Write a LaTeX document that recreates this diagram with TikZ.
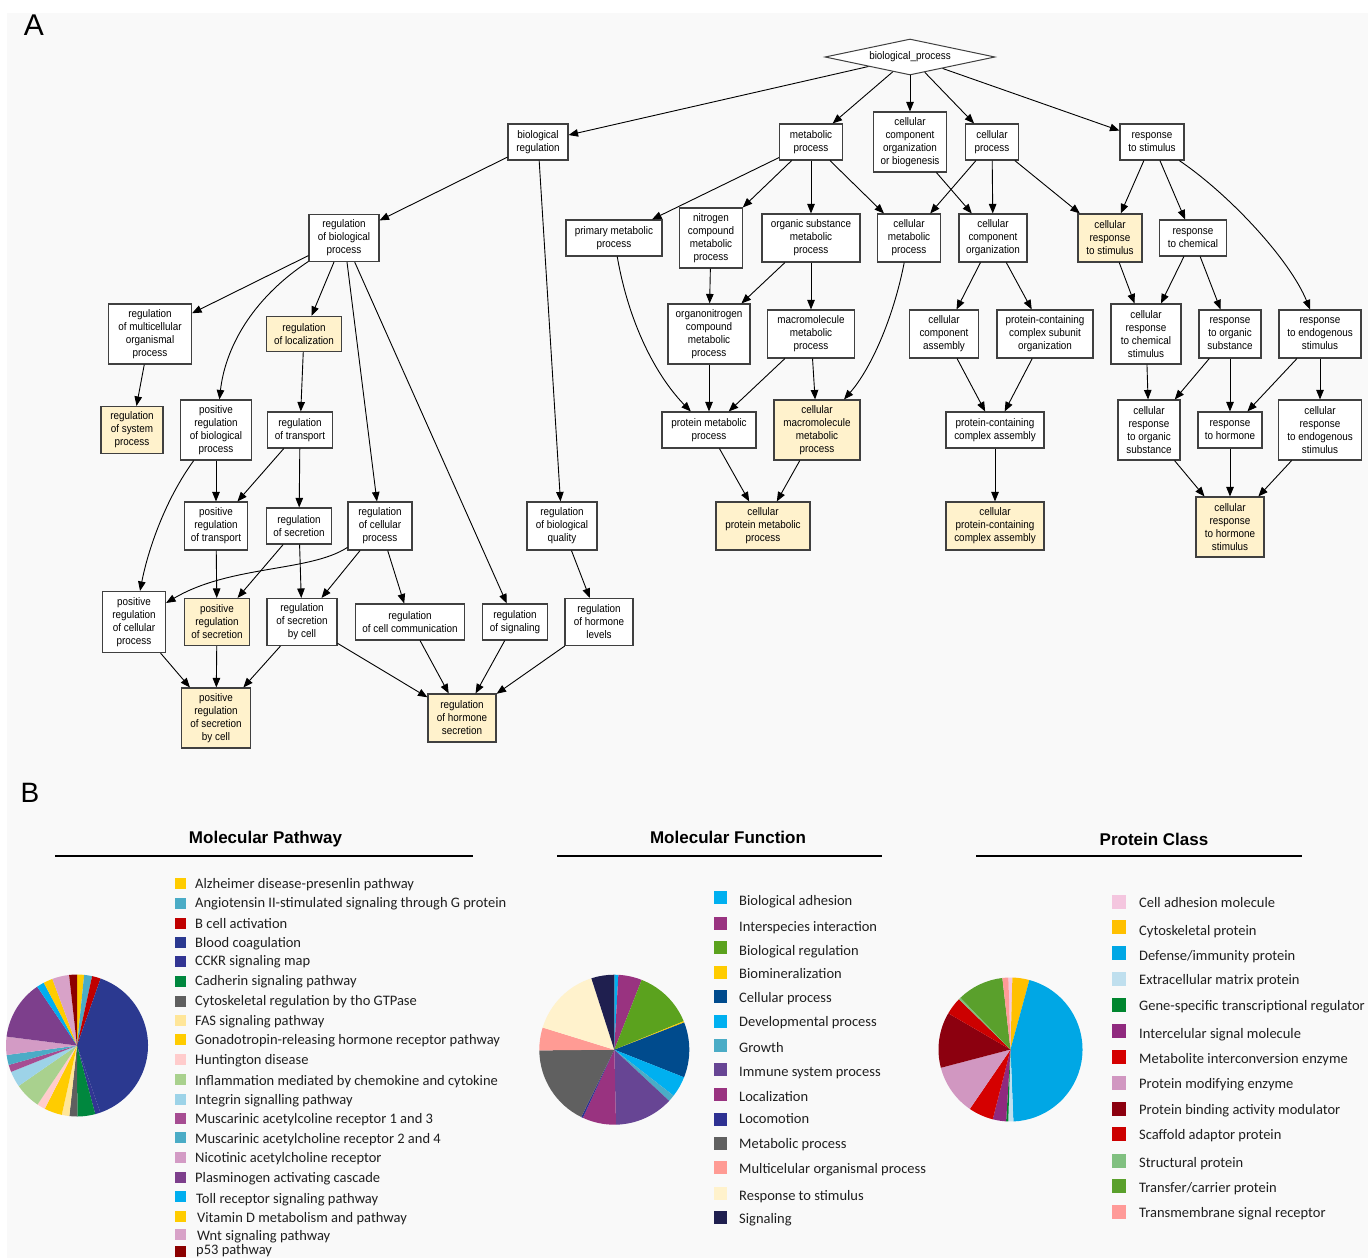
\documentclass[tikz,border=0pt]{standalone}
\usepackage{fontspec}
\setmainfont{Liberation Sans}
\newfontfamily\gofont[FakeStretch=0.9]{Liberation Sans}
\newfontfamily\legfont{Carlito}
\usetikzlibrary{arrows.meta,shapes.geometric}
\definecolor{panel}{HTML}{F9F9F9}
\definecolor{goyellow}{HTML}{FFF2CC}
% pathway colours
\definecolor{mpA}{HTML}{FFCC00}\definecolor{mpB}{HTML}{4BACC6}\definecolor{mpC}{HTML}{C00000}
\definecolor{mpD}{HTML}{2B3990}\definecolor{mpE}{HTML}{323593}\definecolor{mpF}{HTML}{00873E}
\definecolor{mpG}{HTML}{5F5F5F}\definecolor{mpH}{HTML}{FFE699}\definecolor{mpI}{HTML}{FFCC00}
\definecolor{mpJ}{HTML}{FFCCCC}\definecolor{mpK}{HTML}{A9D18E}\definecolor{mpL}{HTML}{9DD3E8}
\definecolor{mpM}{HTML}{A64D92}\definecolor{mpN}{HTML}{4BACC6}\definecolor{mpO}{HTML}{D39BC5}
\definecolor{mpP}{HTML}{7D3F8C}\definecolor{mpQ}{HTML}{00AEEF}\definecolor{mpR}{HTML}{FFCC00}
\definecolor{mpS}{HTML}{D8A2C8}\definecolor{mpT}{HTML}{8B0000}
% function colours
\definecolor{mfA}{HTML}{00B0F0}\definecolor{mfB}{HTML}{993380}\definecolor{mfC}{HTML}{5BA21E}
\definecolor{mfD}{HTML}{FFCC00}\definecolor{mfE}{HTML}{004B8D}\definecolor{mfF}{HTML}{00B0F0}
\definecolor{mfG}{HTML}{4BACC6}\definecolor{mfH}{HTML}{674594}\definecolor{mfI}{HTML}{993380}
\definecolor{mfJ}{HTML}{2E3192}\definecolor{mfK}{HTML}{606060}\definecolor{mfL}{HTML}{FF9B94}
\definecolor{mfM}{HTML}{FFF2CC}\definecolor{mfN}{HTML}{1F1F4F}
% protein class colours
\definecolor{pcA}{HTML}{F4C6DF}\definecolor{pcB}{HTML}{FFC000}\definecolor{pcC}{HTML}{00A7E5}
\definecolor{pcD}{HTML}{BFDFEE}\definecolor{pcE}{HTML}{00862F}\definecolor{pcF}{HTML}{902A7F}
\definecolor{pcG}{HTML}{D50000}\definecolor{pcH}{HTML}{D197C1}\definecolor{pcI}{HTML}{8C000F}
\definecolor{pcJ}{HTML}{CC0000}\definecolor{pcK}{HTML}{80C080}\definecolor{pcL}{HTML}{5AA02C}
\definecolor{pcM}{HTML}{FF9A98}
\newcommand\pslice[6]{\fill[#6] (#1,#2) -- ++({#4-90}:#3) arc[start angle={#4-90}, end angle={#5-90}, radius=#3] -- cycle;}
\newcommand\legitem[8]{\node[fill=#2, minimum size=#5pt, inner sep=0pt] (#1s) at (#3,#4) {}; \node[legtext, anchor=base west] (#1) at (#6,#7) {#8};}
\tikzset{
  gb/.style={draw=black!75, line width=1.1pt, fill=white, align=center, inner sep=1pt, font=\gofont\fontsize{11}{13}\selectfont},
  gy/.style={gb, fill=goyellow},
  arr/.style={-{Triangle[length=9.5pt,width=7.5pt]}, line width=0.9pt, black},
  legtext/.style={font=\legfont\fontsize{14.5}{16}\selectfont, inner sep=0pt, text=black!88},
  ptitle/.style={font=\bfseries\fontsize{17}{20}\selectfont, anchor=base, inner sep=0pt}
}
\begin{document}
\begin{tikzpicture}[x=1pt,y=-1pt]
\useasboundingbox (0,0) rectangle (1368,1258);
\clip (0,0) rectangle (1368,1258);
\fill[white] (0,0) rectangle (1368,1258);
\fill[panel] (7,13) rectangle (1368,1258);

\node[font=\fontsize{30}{30}\selectfont, inner sep=0pt] (lblA) at (34,25) {A};
\node[font=\fontsize{28}{28}\selectfont, inner sep=0pt] (lblB) at (30,793) {B};

% ---------- GO graph ----------
\node[diamond, shape aspect=4.7, draw=black!75, line width=1pt, fill=white, minimum width=170pt, minimum height=36pt, inner sep=0pt, font=\gofont\fontsize{11}{13}\selectfont] (bp) at (910,57) {biological\_process};

\node[gb,minimum width=60pt,minimum height=36pt] (br) at (538,142) {biological\\regulation};
\node[gb,minimum width=63pt,minimum height=36pt] (mp) at (811,142) {metabolic\\process};
\node[gb,minimum width=73pt,minimum height=60pt] (ccob) at (910,142) {cellular\\component\\organization\\or biogenesis};
\node[gb,minimum width=53pt,minimum height=36pt] (cp) at (992,142) {cellular\\process};
\node[gb,minimum width=64pt,minimum height=36pt] (rts) at (1152,142) {response\\to stimulus};

\node[gb,minimum width=70pt,minimum height=47pt] (rbp) at (344,238) {regulation\\of biological\\process};
\node[gb,minimum width=96pt,minimum height=36pt] (pmp) at (614,238) {primary metabolic\\process};
\node[gb,minimum width=63pt,minimum height=60pt] (ncmp) at (711,238) {nitrogen\\compound\\metabolic\\process};
\node[gb,minimum width=98pt,minimum height=48pt] (osmp) at (811,238) {organic substance\\metabolic\\process};
\node[gb,minimum width=63pt,minimum height=48pt] (cmp) at (909,238) {cellular\\metabolic\\process};
\node[gb,minimum width=68pt,minimum height=48pt] (cco) at (993,238) {cellular\\component\\organization};
\node[gy,minimum width=64pt,minimum height=48pt] (crs) at (1110,238) {cellular\\response\\to stimulus};
\node[gb,minimum width=67pt,minimum height=36pt] (rtc) at (1193,238) {response\\to chemical};

\node[gb,minimum width=83pt,minimum height=60pt] (rmop) at (150,334) {regulation\\of multicellular\\organismal\\process};
\node[gy,minimum width=75pt,minimum height=35pt] (rol) at (304,334) {regulation\\of localization};
\node[gb,minimum width=82pt,minimum height=60pt] (oncmp) at (709,334) {organonitrogen\\compound\\metabolic\\process};
\node[gb,minimum width=87pt,minimum height=48pt] (mmp) at (811,334) {macromolecule\\metabolic\\process};
\node[gb,minimum width=69pt,minimum height=48pt] (cca) at (944,334) {cellular\\component\\assembly};
\node[gb,minimum width=96pt,minimum height=48pt] (pccso) at (1045,334) {protein-containing\\complex subunit\\organization};
\node[gb,minimum width=70pt,minimum height=60pt] (crcs) at (1146,334) {cellular\\response\\to chemical\\stimulus};
\node[gb,minimum width=62pt,minimum height=48pt] (rtos) at (1230,334) {response\\to organic\\substance};
\node[gb,minimum width=82pt,minimum height=48pt] (rtes) at (1320,334) {response\\to endogenous\\stimulus};

\node[gy,minimum width=62pt,minimum height=47pt] (rsp) at (132,430) {regulation\\of system\\process};
\node[gb,minimum width=71pt,minimum height=60pt] (prbp) at (216,430) {positive\\regulation\\of biological\\process};
\node[gb,minimum width=65pt,minimum height=36pt] (rot) at (300,430) {regulation\\of transport};
\node[gb,minimum width=94pt,minimum height=36pt] (prmp) at (709,430) {protein metabolic\\process};
\node[gy,minimum width=86pt,minimum height=60pt] (cmmp) at (817,430) {cellular\\macromolecule\\metabolic\\process};
\node[gb,minimum width=98pt,minimum height=36pt] (pcca) at (995,430) {protein-containing\\complex assembly};
\node[gb,minimum width=62pt,minimum height=60pt] (crtos) at (1149,430) {cellular\\response\\to organic\\substance};
\node[gb,minimum width=64pt,minimum height=36pt] (rth) at (1230,430) {response\\to hormone};
\node[gb,minimum width=83pt,minimum height=60pt] (crtes) at (1320,430) {cellular\\response\\to endogenous\\stimulus};

\node[gb,minimum width=63pt,minimum height=48pt] (prt) at (216,526) {positive\\regulation\\of transport};
\node[gb,minimum width=65pt,minimum height=36pt] (ros) at (299,526) {regulation\\of secretion};
\node[gb,minimum width=64pt,minimum height=48pt] (rcp) at (380,526) {regulation\\of cellular\\process};
\node[gb,minimum width=70pt,minimum height=48pt] (rbq) at (562,526) {regulation\\of biological\\quality};
\node[gy,minimum width=94pt,minimum height=48pt] (cprmp) at (763,526) {cellular\\protein metabolic\\process};
\node[gy,minimum width=98pt,minimum height=48pt] (cpcca) at (995,526) {cellular\\protein-containing\\complex assembly};
\node[gy,minimum width=68pt,minimum height=60pt] (crths) at (1230,527) {cellular\\response\\to hormone\\stimulus};

\node[gb,minimum width=63pt,minimum height=61pt] (prcp) at (134,622) {positive\\regulation\\of cellular\\process};
\node[gy,minimum width=65pt,minimum height=47pt] (prs) at (217,622) {positive\\regulation\\of secretion};
\node[gb,minimum width=70pt,minimum height=47pt] (rsbc) at (302,622) {regulation\\of secretion\\by cell};
\node[gb,minimum width=109pt,minimum height=36pt] (rcc) at (410,622) {regulation\\of cell communication};
\node[gb,minimum width=65pt,minimum height=36pt] (rsig) at (515,622) {regulation\\of signaling};
\node[gb,minimum width=68pt,minimum height=47pt] (rhl) at (599,622) {regulation\\of hormone\\levels};

\node[gy,minimum width=69pt,minimum height=60pt] (prsbc) at (216,718) {positive\\regulation\\of secretion\\by cell};
\node[gy,minimum width=68pt,minimum height=48pt] (rhs) at (462,718) {regulation\\of hormone\\secretion};

% edges
\draw[arr] (bp) -- (br);
\draw[arr] (bp) -- (mp);
\draw[arr] (bp) -- (ccob);
\draw[arr] (bp) -- (cp);
\draw[arr] (bp) -- (rts);
\draw[arr] (br) -- (rbp);
\draw[arr] (br) -- (rbq);
\draw[arr] (mp) -- (pmp);
\draw[arr] (mp) -- (ncmp);
\draw[arr] (mp) -- (osmp);
\draw[arr] (mp) -- (cmp);
\draw[arr] (ccob) -- (cco);
\draw[arr] (cp) -- (cmp);
\draw[arr] (cp) -- (cco);
\draw[arr] (cp) -- (crs);
\draw[arr] (rts) -- (crs);
\draw[arr] (rts) -- (rtc);
\draw[arr] (rts) .. controls (1230,195) and (1290,260) .. (rtes);
\draw[arr] (rbp) -- (rmop);
\draw[arr] (rbp) .. controls (250,300) and (225,350) .. (prbp);
\draw[arr] (rbp) -- (rol);
\draw[arr] (rbp) -- (rcp);
\draw[arr] (rbp) -- (rsig);
\draw[arr] (rmop) -- (rsp);
\draw[arr] (rol) -- (rot);
\draw[arr] (rot) -- (prt);
\draw[arr] (rot) -- (ros);
\draw[arr] (prbp) -- (prt);
\draw[arr] (prbp) .. controls (165,500) and (148,550) .. (prcp);
\draw[arr] (prt) -- (prs);
\draw[arr] (ros) -- (prs);
\draw[arr] (ros) -- (rsbc);
\draw[arr] (rcp) .. controls (310,572) and (230,565) .. (prcp);
\draw[arr] (rcp) -- (rsbc);
\draw[arr] (rcp) -- (rcc);
\draw[arr] (rbq) -- (rhl);
\draw[arr] (prcp) -- (prsbc);
\draw[arr] (prs) -- (prsbc);
\draw[arr] (rsbc) -- (prsbc);
\draw[arr] (rsbc) -- (rhs);
\draw[arr] (rcc) -- (rhs);
\draw[arr] (rsig) -- (rhs);
\draw[arr] (rhl) -- (rhs);
\draw[arr] (pmp) .. controls (630,330) and (660,380) .. (prmp);
\draw[arr] (ncmp) -- (oncmp);
\draw[arr] (osmp) -- (oncmp);
\draw[arr] (osmp) -- (mmp);
\draw[arr] (cmp) .. controls (893,320) and (870,370) .. (cmmp);
\draw[arr] (oncmp) -- (prmp);
\draw[arr] (mmp) -- (prmp);
\draw[arr] (mmp) -- (cmmp);
\draw[arr] (prmp) -- (cprmp);
\draw[arr] (cmmp) -- (cprmp);
\draw[arr] (cco) -- (cca);
\draw[arr] (cco) -- (pccso);
\draw[arr] (cca) -- (pcca);
\draw[arr] (pccso) -- (pcca);
\draw[arr] (pcca) -- (cpcca);
\draw[arr] (crs) -- (crcs);
\draw[arr] (rtc) -- (crcs);
\draw[arr] (rtc) -- (rtos);
\draw[arr] (crcs) -- (crtos);
\draw[arr] (rtos) -- (crtos);
\draw[arr] (rtos) -- (rth);
\draw[arr] (rtes) -- (rth);
\draw[arr] (rtes) -- (crtes);
\draw[arr] (crtos) -- (crths);
\draw[arr] (rth) -- (crths);
\draw[arr] (crtes) -- (crths);

% ---------- Panel B ----------
\node[ptitle] (t1) at (265.5,843) {Molecular Pathway};
\node[ptitle] (t2) at (728,843) {Molecular Function};
\node[ptitle] (t3) at (1154,845) {Protein Class};
\draw[line width=1.2pt] (55,856) -- (473,856);
\draw[line width=1.2pt] (557,856) -- (882,856);
\draw[line width=1.2pt] (976,856) -- (1302,856);

% pie 1 : Molecular Pathway
\pslice{77}{1045.5}{71}{0}{5.8}{mpA}
\pslice{77}{1045.5}{71}{5.8}{12.3}{mpB}
\pslice{77}{1045.5}{71}{12.3}{19.4}{mpC}
\pslice{77}{1045.5}{71}{19.4}{160.8}{mpD}
\pslice{77}{1045.5}{71}{160.8}{165.1}{mpE}
\pslice{77}{1045.5}{71}{165.1}{179.7}{mpF}
\pslice{77}{1045.5}{71}{179.7}{186.2}{mpG}
\pslice{77}{1045.5}{71}{186.2}{192.4}{mpH}
\pslice{77}{1045.5}{71}{192.4}{207}{mpI}
\pslice{77}{1045.5}{71}{207}{213.8}{mpJ}
\pslice{77}{1045.5}{71}{213.8}{235.3}{mpK}
\pslice{77}{1045.5}{71}{235.3}{248.2}{mpL}
\pslice{77}{1045.5}{71}{248.2}{254.1}{mpM}
\pslice{77}{1045.5}{71}{254.1}{262.3}{mpN}
\pslice{77}{1045.5}{71}{262.3}{277.2}{mpO}
\pslice{77}{1045.5}{71}{277.2}{325.9}{mpP}
\pslice{77}{1045.5}{71}{325.9}{332.1}{mpQ}
\pslice{77}{1045.5}{71}{332.1}{339.7}{mpR}
\pslice{77}{1045.5}{71}{339.7}{353.6}{mpS}
\pslice{77}{1045.5}{71}{353.6}{360}{mpT}

% pie 2 : Molecular Function
\pslice{614.3}{1049.7}{75}{0}{3.1}{mfA}
\pslice{614.3}{1049.7}{75}{3.1}{21.4}{mfB}
\pslice{614.3}{1049.7}{75}{21.4}{67.7}{mfC}
\pslice{614.3}{1049.7}{75}{67.7}{68.7}{mfD}
\pslice{614.3}{1049.7}{75}{68.7}{111.6}{mfE}
\pslice{614.3}{1049.7}{75}{111.6}{127.8}{mfF}
\pslice{614.3}{1049.7}{75}{127.8}{133}{mfG}
\pslice{614.3}{1049.7}{75}{133}{178.7}{mfH}
\pslice{614.3}{1049.7}{75}{178.7}{204.8}{mfI}
\pslice{614.3}{1049.7}{75}{204.8}{206.2}{mfJ}
\pslice{614.3}{1049.7}{75}{206.2}{269.5}{mfK}
\pslice{614.3}{1049.7}{75}{269.5}{287.2}{mfL}
\pslice{614.3}{1049.7}{75}{287.2}{342.2}{mfM}
\pslice{614.3}{1049.7}{75}{342.2}{360}{mfN}

% pie 3 : Protein Class
\pslice{1010.5}{1049.5}{72}{-1.7}{1.5}{pcA}
\pslice{1010.5}{1049.5}{72}{1.5}{15.2}{pcB}
\pslice{1010.5}{1049.5}{72}{15.2}{177.7}{pcC}
\pslice{1010.5}{1049.5}{72}{177.7}{181.8}{pcD}
\pslice{1010.5}{1049.5}{72}{181.8}{183.5}{pcE}
\pslice{1010.5}{1049.5}{72}{183.5}{194.3}{pcF}
\pslice{1010.5}{1049.5}{72}{194.3}{214.4}{pcG}
\pslice{1010.5}{1049.5}{72}{214.4}{255.3}{pcH}
\pslice{1010.5}{1049.5}{72}{255.3}{300.2}{pcI}
\pslice{1010.5}{1049.5}{72}{300.2}{314.3}{pcJ}
\pslice{1010.5}{1049.5}{72}{314.3}{316}{pcK}
\pslice{1010.5}{1049.5}{72}{316}{353.5}{pcL}
\pslice{1010.5}{1049.5}{72}{353.5}{358.3}{pcM}

% legend 1
\legitem{la}{mpA}{180.5}{883}{11}{195}{888}{Alzheimer disease-presenlin pathway}
\legitem{lb}{mpB}{180.5}{903}{11}{195}{907}{Angiotensin II-stimulated signaling through G protein}
\legitem{lc}{mpC}{180.5}{923}{11}{195}{928}{B cell activation}
\legitem{ld}{mpD}{180.5}{942}{11}{195}{947}{Blood coagulation}
\legitem{le}{mpE}{180.5}{961}{11}{195}{965}{CCKR signaling map}
\legitem{lf}{mpF}{180.5}{981}{11}{195}{985}{Cadherin signaling pathway}
\legitem{lg}{mpG}{180.5}{1001}{11}{195}{1005}{Cytoskeletal regulation by tho GTPase}
\legitem{lh}{mpH}{180.5}{1020}{11}{195}{1025}{FAS signaling pathway}
\legitem{li}{mpI}{180.5}{1039}{11}{195}{1044}{Gonadotropin-releasing hormone receptor pathway}
\legitem{lj}{mpJ}{180.5}{1059}{11}{195}{1064}{Huntington disease}
\legitem{lk}{mpK}{180.5}{1079}{11}{195}{1085}{Inflammation mediated by chemokine and cytokine}
\legitem{ll}{mpL}{180.5}{1099}{11}{195}{1104}{Integrin signalling pathway}
\legitem{lm}{mpM}{180.5}{1118}{11}{195}{1123}{Muscarinic acetylcoline receptor 1 and 3}
\legitem{ln}{mpN}{180.5}{1137}{11}{195}{1143}{Muscarinic acetylcholine receptor 2 and 4}
\legitem{lo}{mpO}{180.5}{1157}{11}{195}{1162}{Nicotinic acetylcholine receptor}
\legitem{lp}{mpP}{180.5}{1177}{11}{195}{1182}{Plasminogen activating cascade}
\legitem{lq}{mpQ}{180.5}{1196}{11}{196}{1203}{Toll receptor signaling pathway}
\legitem{lr}{mpR}{180.5}{1216}{11}{197}{1222}{Vitamin D metabolism and pathway}
\legitem{ls}{mpS}{180.5}{1234}{11}{197}{1240}{Wnt signaling pathway}
\legitem{lt}{mpT}{180.5}{1251}{11}{196}{1254}{p53 pathway}

% legend 2
\legitem{fa}{mfA}{720.5}{897}{13}{739}{905}{Biological adhesion}
\legitem{fb}{mfB}{720.5}{923}{13}{739}{931}{Interspecies interaction}
\legitem{fc}{mfC}{720.5}{947}{13}{739}{955}{Biological regulation}
\legitem{fd}{mfD}{720.5}{972}{13}{739}{978}{Biomineralization}
\legitem{fe}{mfE}{720.5}{996}{13}{739}{1002}{Cellular process}
\legitem{ff}{mfF}{720.5}{1021}{13}{739}{1026}{Developmental process}
\legitem{fg}{mfG}{720.5}{1045}{13}{739}{1052}{Growth}
\legitem{fh}{mfH}{720.5}{1069}{13}{739}{1076}{Immune system process}
\legitem{fi}{mfI}{720.5}{1094}{13}{739}{1101}{Localization}
\legitem{fj}{mfJ}{720.5}{1119}{13}{739}{1123}{Locomotion}
\legitem{fk}{mfK}{720.5}{1143}{13}{739}{1148}{Metabolic process}
\legitem{fl}{mfL}{720.5}{1167}{13}{739}{1173}{Multicelular organismal process}
\legitem{fm}{mfM}{720.5}{1193}{13}{739}{1200}{Response to stimulus}
\legitem{fn}{mfN}{720.5}{1217}{13}{739}{1223}{Signaling}

% legend 3
\legitem{pa}{pcA}{1119}{902}{14}{1139}{907}{Cell adhesion molecule}
\legitem{pb}{pcB}{1119}{927}{14}{1139}{935}{Cytoskeletal protein}
\legitem{pc}{pcC}{1119}{953}{14}{1139}{960}{Defense/immunity protein}
\legitem{pd}{pcD}{1119}{979}{14}{1139}{984}{Extracellular matrix protein}
\legitem{pe}{pcE}{1119}{1005}{14}{1139}{1010}{Gene-specific transcriptional regulator}
\legitem{pf}{pcF}{1119}{1031}{14}{1139}{1038}{Intercelular signal molecule}
\legitem{pg}{pcG}{1119}{1057}{14}{1139}{1063}{Metabolite interconversion enzyme}
\legitem{ph}{pcH}{1119}{1083}{14}{1139}{1088}{Protein modifying enzyme}
\legitem{pi}{pcI}{1119}{1109}{14}{1139}{1114}{Protein binding activity modulator}
\legitem{pj}{pcJ}{1119}{1134}{14}{1139}{1139}{Scaffold adaptor protein}
\legitem{pk}{pcK}{1119}{1161}{14}{1139}{1167}{Structural protein}
\legitem{pl}{pcL}{1119}{1186}{14}{1139}{1192}{Transfer/carrier protein}
\legitem{pm}{pcM}{1119}{1212}{14}{1139}{1217}{Transmembrane signal receptor}
\end{tikzpicture}
\end{document}
